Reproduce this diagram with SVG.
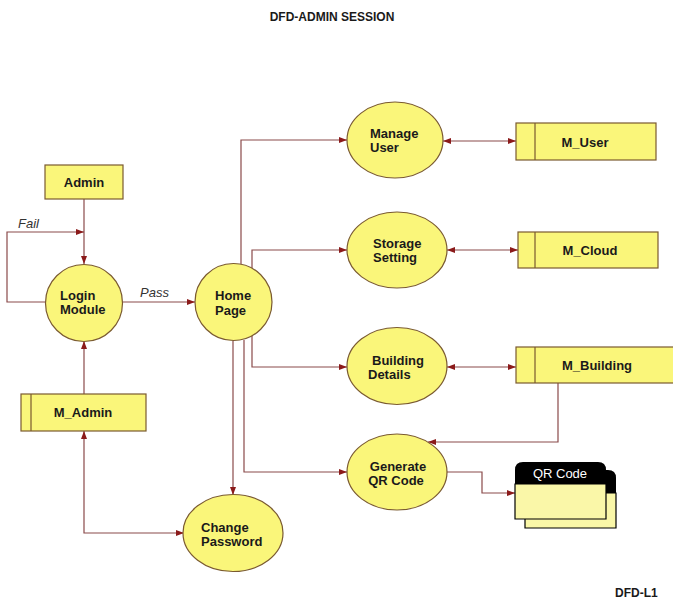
<svg xmlns="http://www.w3.org/2000/svg" width="673" height="600" viewBox="0 0 673 600">
<style>
.proc{fill:#faf67a;stroke:#7a5a30;stroke-width:1.2}
.store{fill:#faf67a;stroke:#7a5a30;stroke-width:1.2}
.t{font-family:"Liberation Sans",Arial,sans-serif;font-weight:bold;font-size:13px;fill:#1a1a1a}
.c{text-anchor:middle}
.lbl{font-family:"Liberation Sans",Arial,sans-serif;font-style:italic;font-size:13px;fill:#333}
.ln{fill:none;stroke:#8a4a4a;stroke-width:1.2}
</style>
<defs>
<marker id="ah" viewBox="0 0 8 6" refX="8" refY="3" markerWidth="8" markerHeight="6" markerUnits="userSpaceOnUse" orient="auto-start-reverse">
<path d="M0,0 L8,3 L0,6 Z" fill="#8b1a1a"/>
</marker>
</defs>
<rect width="673" height="600" fill="#fff"/>
<text class="t c" x="332" y="21" style="font-size:12px">DFD-ADMIN SESSION</text>
<text class="t" x="615" y="597" style="font-size:12px">DFD-L1</text>

<g id="connectors">
<path class="ln" d="M84,199 L84,264" marker-end="url(#ah)"/>
<path class="ln" d="M45,302 L7,302 L7,232 L84,232" marker-end="url(#ah)"/>
<path class="ln" d="M123,302 L195,302" marker-end="url(#ah)"/>
<path class="ln" d="M84,394 L84,341" marker-end="url(#ah)"/>
<path class="ln" d="M84,431 L84,533 L184,533" marker-start="url(#ah)" marker-end="url(#ah)"/>
<path class="ln" d="M241,264 L241,140 L347,140" marker-end="url(#ah)"/>
<path class="ln" d="M252,268 L252,250 L347,250" marker-end="url(#ah)"/>
<path class="ln" d="M252,336 L252,367 L347,367" marker-end="url(#ah)"/>
<path class="ln" d="M244,340 L244,472 L347,472" marker-end="url(#ah)"/>
<path class="ln" d="M233,341 L233,495" marker-end="url(#ah)"/>
<path class="ln" d="M443,141 L516,141" marker-start="url(#ah)" marker-end="url(#ah)"/>
<path class="ln" d="M447,250 L518,250" marker-start="url(#ah)" marker-end="url(#ah)"/>
<path class="ln" d="M447,367 L516,367" marker-start="url(#ah)" marker-end="url(#ah)"/>
<path class="ln" d="M558,383 L558,442 L428,442" marker-end="url(#ah)"/>
<path class="ln" d="M447,472 L482,472 L482,493 L515,493" marker-end="url(#ah)"/>
<text class="lbl" x="18" y="228">Fail</text>
<text class="lbl" x="140" y="297">Pass</text>
</g>

<g id="admin">
<rect class="store" x="45" y="165" width="78" height="34"/>
<text class="t c" x="84" y="187">Admin</text>
</g>
<g id="login">
<circle class="proc" cx="84" cy="303" r="38.5"/>
<text class="t" x="60" y="300">Login</text>
<text class="t" x="60" y="314">Module</text>
</g>
<g id="home">
<circle class="proc" cx="233.5" cy="302" r="38.5"/>
<text class="t" x="215" y="300">Home</text>
<text class="t" x="215" y="315">Page</text>
</g>
<g id="m_admin">
<rect class="store" x="21" y="394" width="125" height="37"/>
<line class="store" x1="31" y1="394" x2="31" y2="431"/>
<text class="t c" x="83" y="417">M_Admin</text>
</g>
<g id="change_password">
<ellipse class="proc" cx="233" cy="533" rx="50" ry="38.5"/>
<text class="t" x="201" y="532">Change</text>
<text class="t" x="201" y="546">Password</text>
</g>
<g id="manage_user">
<ellipse class="proc" cx="395" cy="140" rx="48" ry="38"/>
<text class="t" x="370" y="138">Manage</text>
<text class="t" x="370" y="152">User</text>
</g>
<g id="storage_setting">
<ellipse class="proc" cx="397" cy="250" rx="50" ry="38"/>
<text class="t" x="373" y="248">Storage</text>
<text class="t" x="373" y="262">Setting</text>
</g>
<g id="building_details">
<ellipse class="proc" cx="397" cy="366" rx="50" ry="38.5"/>
<text class="t" x="372" y="365">Building</text>
<text class="t" x="368" y="379">Details</text>
</g>
<g id="generate_qr">
<ellipse class="proc" cx="397" cy="472" rx="50" ry="38"/>
<text class="t c" x="398" y="471">Generate</text>
<text class="t c" x="396" y="485">QR Code</text>
</g>
<g id="m_user">
<rect class="store" x="516" y="123" width="140" height="37"/>
<line class="store" x1="535" y1="123" x2="535" y2="160"/>
<text class="t c" x="585" y="147">M_User</text>
</g>
<g id="m_cloud">
<rect class="store" x="518" y="232" width="140" height="36"/>
<line class="store" x1="535" y1="232" x2="535" y2="268"/>
<text class="t c" x="590" y="255">M_Cloud</text>
</g>
<g id="m_building">
<rect class="store" x="516" y="347" width="160" height="36"/>
<line class="store" x1="535" y1="347" x2="535" y2="383"/>
<text class="t c" x="597" y="370">M_Building</text>
</g>
<g id="qr_code">
<path d="M525,493 L616,493 L616,528 L525,528 Z" fill="#faf7a8" stroke="#000" stroke-width="1.2"/>
<path d="M525,493 L525,478 Q525,470 533,470 L608,470 Q616,470 616,478 L616,493 Z" fill="#000"/>
<path d="M515,484 L606,484 L606,519 L515,519 Z" fill="#faf7a8" stroke="#000" stroke-width="1.2"/>
<path d="M515,484 L515,470 Q515,462 523,462 L598,462 Q606,462 606,470 L606,484 Z" fill="#000"/>
<text x="560" y="478" text-anchor="middle" style="font-family:'Liberation Sans',Arial,sans-serif;font-size:13px;fill:#fff">QR Code</text>
</g>
</svg>
